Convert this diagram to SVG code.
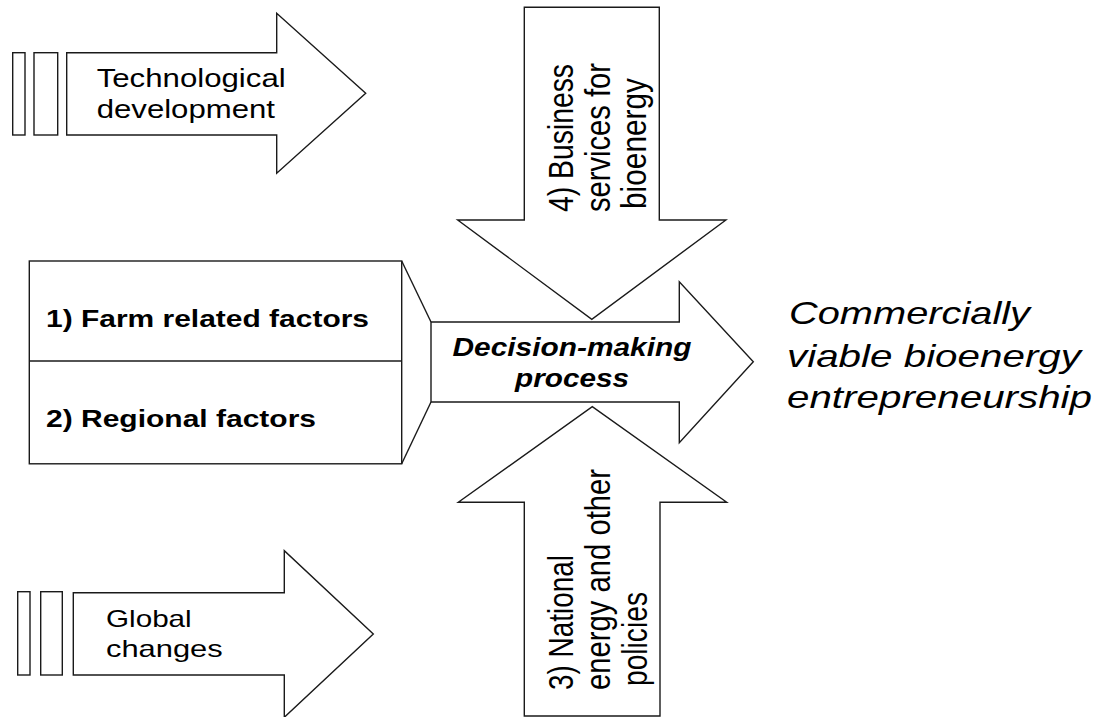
<svg xmlns="http://www.w3.org/2000/svg" width="1112" height="717" viewBox="0 0 1112 717">
  <style>
    .shape { fill: #ffffff; stroke: #1a1a1a; stroke-width: 1.4; stroke-linejoin: miter; }
    .line { fill: none; stroke: #1a1a1a; stroke-width: 1.4; }
    .lbl { font-family: "Liberation Sans", Arial, sans-serif; fill: #000000; }
    .bold { font-weight: bold; }
    .ital { font-style: italic; }
  </style>
  <rect width="1112" height="717" fill="#ffffff"/>

  <!-- upper-left input: technological development -->
  <g id="node-tech">
    <rect class="shape" x="12.7" y="52.7" width="12.3" height="82.3"/>
    <rect class="shape" x="34" y="52.7" width="23.7" height="82.3"/>
    <polygon class="shape" points="66.7,52.7 276.7,52.7 276.7,13.3 365.7,93.3 276.7,173.3 276.7,135 66.7,135"/>
    <text class="lbl" font-size="26" x="96.7" y="87" textLength="189" lengthAdjust="spacingAndGlyphs">Technological</text>
    <text class="lbl" font-size="26" x="96.7" y="118.3" textLength="178.3" lengthAdjust="spacingAndGlyphs">development</text>
  </g>

  <!-- lower-left input: global changes -->
  <g id="node-global">
    <rect class="shape" x="17.7" y="591.7" width="12.3" height="83.3"/>
    <rect class="shape" x="40.7" y="591.7" width="21.6" height="83.3"/>
    <polygon class="shape" points="73.3,592.7 284.3,592.7 284.3,550.7 373.3,634 284.3,717.3 284.3,675 73.3,675"/>
    <text class="lbl" font-size="24" x="106" y="626.7" textLength="85.7" lengthAdjust="spacingAndGlyphs">Global</text>
    <text class="lbl" font-size="24" x="106" y="656.7" textLength="116.7" lengthAdjust="spacingAndGlyphs">changes</text>
  </g>

  <!-- factor box: farm and regional -->
  <g id="node-factors">
    <rect class="shape" x="29.3" y="261" width="372.4" height="202.8"/>
    <line class="line" x1="29.3" y1="361" x2="401.7" y2="361"/>
    <text class="lbl bold" font-size="24" x="46" y="327.3" textLength="323" lengthAdjust="spacingAndGlyphs">1) Farm related factors</text>
    <text class="lbl bold" font-size="24" x="46" y="426.7" textLength="270" lengthAdjust="spacingAndGlyphs">2) Regional factors</text>
  </g>

  <!-- top input: business services -->
  <g id="node-business">
    <polygon class="shape" points="524.3,7.3 659.3,7.3 659.3,220 725.9,220 591.8,319.3 457.7,220 524.3,220"/>
    <g class="lbl" font-size="28">
      <text transform="translate(573,212) rotate(-90) scale(1,1.22)" textLength="148" lengthAdjust="spacingAndGlyphs">4) Business</text>
      <text transform="translate(610,212) rotate(-90) scale(1,1.22)" textLength="149" lengthAdjust="spacingAndGlyphs">services for</text>
      <text transform="translate(646,209) rotate(-90) scale(1,1.22)" textLength="131" lengthAdjust="spacingAndGlyphs">bioenergy</text>
    </g>
  </g>

  <!-- bottom input: national policies -->
  <g id="node-policies">
    <polygon class="shape" points="524.3,716 524.3,502.3 458.3,502.3 592.3,406.7 726.7,502.3 660,502.3 660,716"/>
    <g class="lbl" font-size="28">
      <text transform="translate(573,690) rotate(-90) scale(1,1.22)" textLength="135" lengthAdjust="spacingAndGlyphs">3) National</text>
      <text transform="translate(610,690) rotate(-90) scale(1,1.22)" textLength="221" lengthAdjust="spacingAndGlyphs">energy and other</text>
      <text transform="translate(647,686) rotate(-90) scale(1,1.22)" textLength="94" lengthAdjust="spacingAndGlyphs">policies</text>
    </g>
  </g>

  <!-- central process arrow -->
  <g id="node-decision">
    <polygon class="shape" points="431,322 679.3,322 679.3,281.7 753.3,361.7 679.3,442.7 679.3,402 431,402"/>
    <text class="lbl bold ital" font-size="25" x="572" y="356" text-anchor="middle" textLength="239" lengthAdjust="spacingAndGlyphs">Decision-making</text>
    <text class="lbl bold ital" font-size="25" x="572" y="386.7" text-anchor="middle" textLength="114" lengthAdjust="spacingAndGlyphs">process</text>
  </g>

  <!-- outcome -->
  <g id="node-outcome">
    <text class="lbl ital" font-size="32" x="789" y="324.3" textLength="241" lengthAdjust="spacingAndGlyphs">Commercially</text>
    <text class="lbl ital" font-size="32" x="787" y="367.3" textLength="294" lengthAdjust="spacingAndGlyphs">viable bioenergy</text>
    <text class="lbl ital" font-size="32" x="787" y="408.3" textLength="305" lengthAdjust="spacingAndGlyphs">entrepreneurship</text>
  </g>

  <!-- connectors: funnel from the factor box into the process arrow -->
  <g id="connectors">
    <line class="line" x1="401.7" y1="261" x2="431" y2="322"/>
    <line class="line" x1="401.7" y1="463.8" x2="431" y2="402"/>
  </g>
</svg>
